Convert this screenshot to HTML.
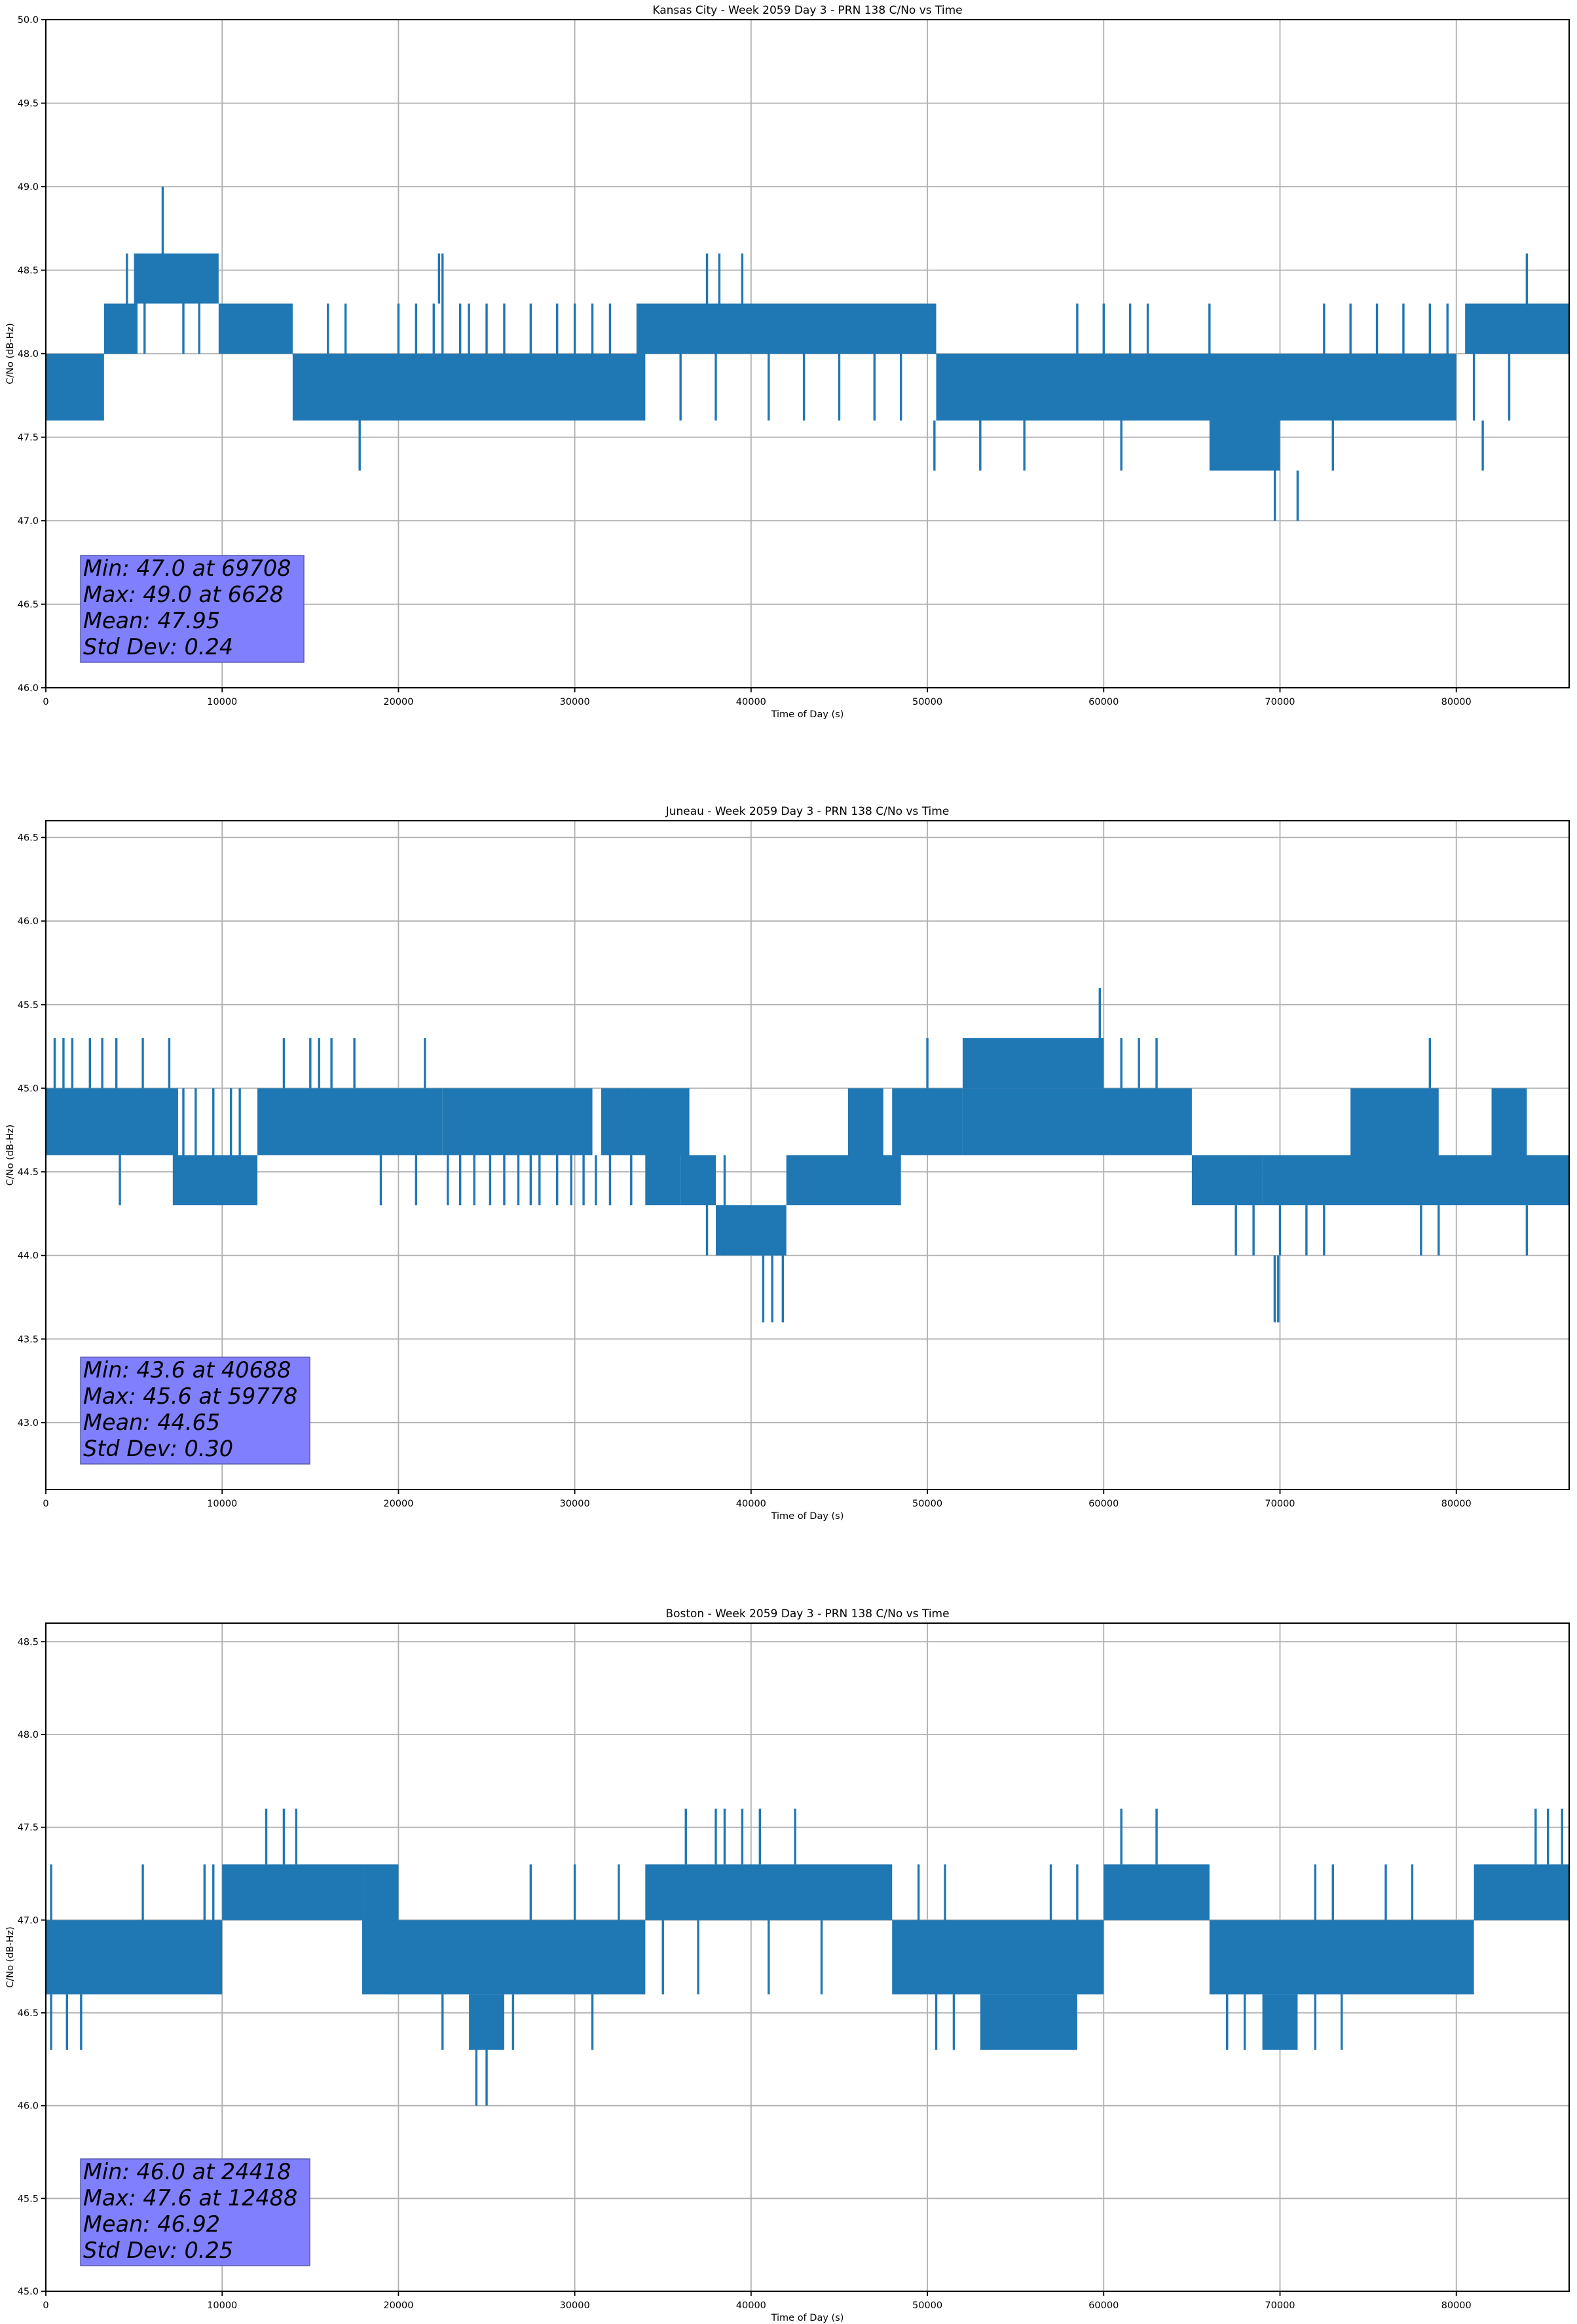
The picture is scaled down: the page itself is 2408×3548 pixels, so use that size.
<!DOCTYPE html>
<html><head><meta charset="utf-8"><style>
html,body{margin:0;padding:0;background:#fff}
svg{display:block}
text{font-family:"DejaVu Sans","Liberation Sans",sans-serif;fill:#000}
</style></head><body>
<svg id="fig" xmlns="http://www.w3.org/2000/svg" width="2408" height="3548" viewBox="0 0 2408 3548"></svg>
<script>
// ---------- shared axis data ----------
const xTicks = [0,10000,20000,30000,40000,50000,60000,70000,80000];
const xMax = 86400;

// ---------- Kansas City ----------
const kcBandStart = [0,3300,5000,9800,14000,33500,50500,66000,65500,70500,80500];
const kcBandEnd   = [3300,5200,9800,14000,34000,50500,66000,70000,72000,80000,86400];
const kcBandLo    = [47.6,48.0,48.3,48.0,47.6,48.0,47.6,47.3,47.6,47.6,48.0];
const kcBandHi    = [48.0,48.3,48.6,48.3,48.0,48.3,48.0,47.6,48.0,48.0,48.3];
const kcSpikeT  = [6628,16000,17000,20000,21000,22000,22500,23500,24000,25000,26000,27500,29000,30000,31000,32000,22300,37500,38200,39500,36000,38000,41000,43000,45000,47000,48500,17800,50400,53000,55500,61000,73000,69708,71000,58500,60000,61500,62500,66000,72500,74000,75500,77000,78500,79500,84000,81000,83000,81500,4600,5600,7800,8700];
const kcSpikeLo = [48.6,48.0,48.0,48.0,48.0,48.0,48.0,48.0,48.0,48.0,48.0,48.0,48.0,48.0,48.0,48.0,48.3,48.3,48.3,48.3,47.6,47.6,47.6,47.6,47.6,47.6,47.6,47.3,47.3,47.3,47.3,47.3,47.3,47.0,47.0,48.0,48.0,48.0,48.0,48.0,48.0,48.0,48.0,48.0,48.0,48.0,48.3,47.6,47.6,47.3,48.3,48.0,48.0,48.0];
const kcSpikeHi = [49.0,48.3,48.3,48.3,48.3,48.3,48.6,48.3,48.3,48.3,48.3,48.3,48.3,48.3,48.3,48.3,48.6,48.6,48.6,48.6,48.0,48.0,48.0,48.0,48.0,48.0,48.0,47.6,47.6,47.6,47.6,47.6,47.6,47.3,47.3,48.3,48.3,48.3,48.3,48.3,48.3,48.3,48.3,48.3,48.3,48.3,48.6,48.0,48.0,47.6,48.6,48.3,48.3,48.3];
const kcYTicks = [46.0,46.5,47.0,47.5,48.0,48.5,49.0,49.5,50.0];
const kcStats = ["Min: 47.0 at 69708","Max: 49.0 at 6628","Mean: 47.95","Std Dev: 0.24"];

// ---------- Juneau ----------
const juBandStart = [0,7200,12000,22500,31500,34000,36000,38000,42000,45500,48000,52000,52000,65000,69000,74000,82000];
const juBandEnd   = [7500,12000,22500,31000,36500,36000,38000,42000,48500,47500,52000,60000,65000,69000,86400,79000,84000];
const juBandLo    = [44.6,44.3,44.6,44.6,44.6,44.3,44.3,44.0,44.3,44.6,44.6,45.0,44.6,44.3,44.3,44.6,44.6];
const juBandHi    = [45.0,44.6,45.0,45.0,45.0,44.6,44.6,44.3,44.6,45.0,45.0,45.3,45.0,44.6,44.6,45.0,45.0];
const juSpikeT  = [500,1000,1500,2500,3200,4000,5500,7000,13500,15000,15500,16200,17500,21500,4200,19000,21000,28000,7800,8500,9500,10500,11000,33000,34000,40688,41200,41800,59778,50000,61000,62000,63000,78500,67500,68500,70000,71500,72500,78000,79000,84000,69700,69900,37500,38500,22800,23500,24300,25200,26000,26800,27500,29000,29800,30500,31200,32000,33200];
const juSpikeLo = [45.0,45.0,45.0,45.0,45.0,45.0,45.0,45.0,45.0,45.0,45.0,45.0,45.0,45.0,44.3,44.3,44.3,44.3,44.6,44.6,44.6,44.6,44.6,44.6,44.6,43.6,43.6,43.6,45.3,45.0,45.0,45.0,45.0,45.0,44.0,44.0,44.0,44.0,44.0,44.0,44.0,44.0,43.6,43.6,44.0,44.0,44.3,44.3,44.3,44.3,44.3,44.3,44.3,44.3,44.3,44.3,44.3,44.3,44.3];
const juSpikeHi = [45.3,45.3,45.3,45.3,45.3,45.3,45.3,45.3,45.3,45.3,45.3,45.3,45.3,45.3,44.6,44.6,44.6,44.6,45.0,45.0,45.0,45.0,45.0,45.0,45.0,44.0,44.0,44.0,45.6,45.3,45.3,45.3,45.3,45.3,44.3,44.3,44.3,44.3,44.3,44.3,44.3,44.3,44.0,44.0,44.6,44.6,44.6,44.6,44.6,44.6,44.6,44.6,44.6,44.6,44.6,44.6,44.6,44.6,44.6];
const juYTicks = [43.0,43.5,44.0,44.5,45.0,45.5,46.0,46.5];
const juStats = ["Min: 43.6 at 40688","Max: 45.6 at 59778","Mean: 44.65","Std Dev: 0.30"];

// ---------- Boston ----------
const boBandStart = [0,10000,18000,19500,24000,34000,48000,53000,60000,66000,69000,81000];
const boBandEnd   = [10000,18000,20000,34000,26000,48000,60000,58500,66000,81000,71000,86400];
const boBandLo    = [46.6,47.0,46.6,46.6,46.3,47.0,46.6,46.3,47.0,46.6,46.3,47.0];
const boBandHi    = [47.0,47.3,47.3,47.0,46.6,47.3,47.0,46.6,47.3,47.0,46.6,47.3];
const boSpikeT  = [300,1200,2000,300,5500,9000,9500,12500,13500,14200,18000,24418,25000,22500,26500,31000,27500,30000,32500,36300,38000,38500,39500,40500,42500,35000,37000,41000,44000,50500,51500,49500,51000,57000,58500,61000,63000,67000,68000,72000,73500,72000,73000,76000,77500,84500,85200,86000];
const boSpikeLo = [46.3,46.3,46.3,47.0,47.0,47.0,47.0,47.3,47.3,47.3,46.6,46.0,46.0,46.3,46.3,46.3,47.0,47.0,47.0,47.3,47.3,47.3,47.3,47.3,47.3,46.6,46.6,46.6,46.6,46.3,46.3,47.0,47.0,47.0,47.0,47.3,47.3,46.3,46.3,46.3,46.3,47.0,47.0,47.0,47.0,47.3,47.3,47.3];
const boSpikeHi = [46.6,46.6,46.6,47.3,47.3,47.3,47.3,47.6,47.6,47.6,47.0,46.3,46.3,46.6,46.6,46.6,47.3,47.3,47.3,47.6,47.6,47.6,47.6,47.6,47.6,47.0,47.0,47.0,47.0,46.6,46.6,47.3,47.3,47.3,47.3,47.6,47.6,46.6,46.6,46.6,46.6,47.3,47.3,47.3,47.3,47.6,47.6,47.6];
const boYTicks = [45.0,45.5,46.0,46.5,47.0,47.5,48.0,48.5];
const boStats = ["Min: 46.0 at 24418","Max: 47.6 at 12488","Mean: 46.92","Std Dev: 0.25"];

const NS = "http://www.w3.org/2000/svg";
const svg = document.getElementById('fig');
function mk(tag, attrs, parent){
  const e = document.createElementNS(NS, tag);
  for (const k in attrs) e.setAttribute(k, attrs[k]);
  (parent||svg).appendChild(e);
  return e;
}
const L = 70, R = 2396;
function drawPanel(key, title, top, bottom, yMin, yMax, yTicks, bs, be, bl, bh, st, sl, sh, stats){
  const g = mk('g', {});
  
  
  const X = t => L + (t / xMax) * (R - L);
  const Y = v => bottom - (v - yMin) / (yMax - yMin) * (bottom - top);
  xTicks.forEach(t => {
    const ln = mk('line', {x1:X(t), x2:X(t), y1:top, y2:bottom, stroke:'#b0b0b0', 'stroke-width':1.8}, g);
    
    
  });
  yTicks.forEach(v => {
    const ln = mk('line', {x1:L, x2:R, y1:Y(v), y2:Y(v), stroke:'#b0b0b0', 'stroke-width':1.8}, g);
    
    
  });
  for (let i = 0; i < bs.length; i++){
    const r = mk('rect', {x:X(bs[i]), y:Y(bh[i]), width:Math.max(2, X(be[i]) - X(bs[i])), height:Y(bl[i]) - Y(bh[i]), fill:'#1f77b4'}, g);
    
    
  }
  for (let i = 0; i < st.length; i++){
    const ln = mk('line', {x1:X(st[i]), x2:X(st[i]), y1:Y(sl[i]), y2:Y(sh[i]), stroke:'#1f77b4', 'stroke-width':3.4}, g);
    
    
  }
  const fr = mk('rect', {x:L, y:top, width:R-L, height:bottom-top, fill:'none', stroke:'#000', 'stroke-width':2}, g);
  
  
  xTicks.forEach(t => {
    mk('line', {x1:X(t), x2:X(t), y1:bottom, y2:bottom+7, stroke:'#000', 'stroke-width':1.8}, g);
    const tx = mk('text', {x:X(t), y:bottom+26, 'font-size':14.5, 'text-anchor':'middle'}, g);
    
    
    tx.textContent = t;
  });
  yTicks.forEach(v => {
    mk('line', {x1:L-7, x2:L, y1:Y(v), y2:Y(v), stroke:'#000', 'stroke-width':1.8}, g);
    const tx = mk('text', {x:L-11, y:Y(v)+5, 'font-size':14.5, 'text-anchor':'end'}, g);
    
    
    tx.textContent = v.toFixed(1);
  });
  const tt = mk('text', {x:(L+R)/2, y:top-9, 'font-size':17, 'text-anchor':'middle'}, g);
  
  
  tt.textContent = title;
  const xl = mk('text', {x:(L+R)/2, y:bottom+45, 'font-size':14.5, 'text-anchor':'middle'}, g);
  
  
  xl.textContent = 'Time of Day (s)';
  const cy = (top+bottom)/2;
  const yl = mk('text', {x:20, y:cy, 'font-size':14.5, 'text-anchor':'middle', transform:'rotate(-90 20 '+cy+')'}, g);
  
  
  yl.textContent = 'C/No (dB-Hz)';
  const bx = mk('rect', {x:123, y:bottom-202, width:(key==='kansas-city'?341:350), height:163, fill:'#8080ff', stroke:'#5a5ab0', 'stroke-width':1.5}, g);
  
  
  stats.forEach((s, i) => {
    const tx = mk('text', {x:127, y:bottom-171 + i*40, 'font-size':33.5, 'font-style':'italic'}, g);
    
    
    tx.textContent = s;
  });
}
drawPanel('kansas-city', 'Kansas City - Week 2059 Day 3 - PRN 138 C/No vs Time', 30, 1050, 46.0, 50.0, kcYTicks, kcBandStart, kcBandEnd, kcBandLo, kcBandHi, kcSpikeT, kcSpikeLo, kcSpikeHi, kcStats);
drawPanel('juneau', 'Juneau - Week 2059 Day 3 - PRN 138 C/No vs Time', 1253, 2274, 42.6, 46.6, juYTicks, juBandStart, juBandEnd, juBandLo, juBandHi, juSpikeT, juSpikeLo, juSpikeHi, juStats);
drawPanel('boston', 'Boston - Week 2059 Day 3 - PRN 138 C/No vs Time', 2478, 3498, 45.0, 48.6, boYTicks, boBandStart, boBandEnd, boBandLo, boBandHi, boSpikeT, boSpikeLo, boSpikeHi, boStats);
</script>
</body></html>
